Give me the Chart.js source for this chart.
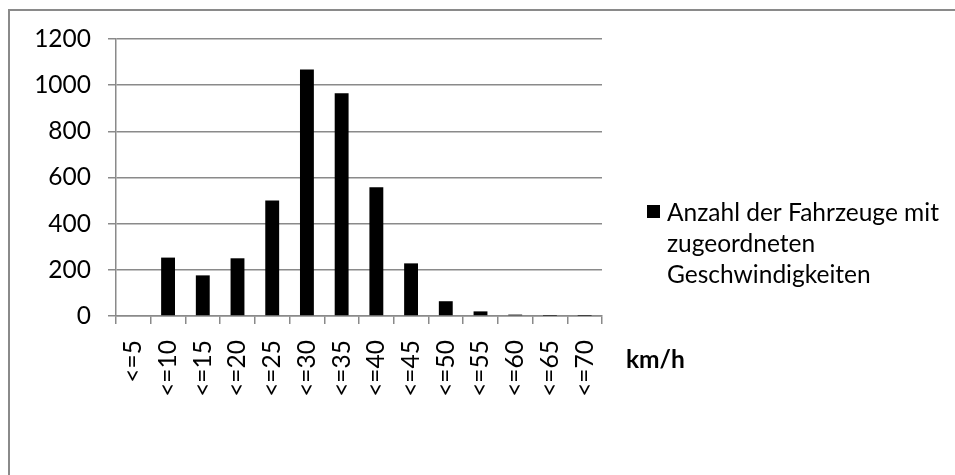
<!DOCTYPE html>
<html>
<head>
<meta charset="utf-8">
<script src="https://cdn.jsdelivr.net/npm/chart.js@4"></script>
<style>
  html, body { margin: 0; padding: 0; background: #fff; }
  #wrap { position: relative; width: 955px; height: 475px; overflow: hidden; }
  #frame { position: absolute; left: 8px; top: 9px; width: 1000px; height: 1000px;
           border-top: 2px solid #8a8a8a; border-left: 2px solid #8a8a8a; }
  canvas { position: absolute; left: 0; top: 0; }
</style>
</head>
<body>
<div id="wrap">
  <div id="frame"></div>
  <canvas id="c" width="955" height="475"></canvas>
</div>
<script>
const speedLabels = ["<=5", "<=10", "<=15", "<=20", "<=25", "<=30", "<=35",
                     "<=40", "<=45", "<=50", "<=55", "<=60", "<=65", "<=70"];
const vehicleCounts = [0, 253, 176, 250, 500, 1068, 965, 558, 228, 64, 20, 6, 1, 1];
const seriesName = "Anzahl der Fahrzeuge mit zugeordneten Geschwindigkeiten";
const legendLines = ["Anzahl der Fahrzeuge mit", "zugeordneten", "Geschwindigkeiten"];
const axisTitle = "km/h";

const font = "Lato, 'Open Sans', sans-serif";
const fontSize = 24.5;
const gridGray = "#8a8a8a";

// legend + unit title drawn by hand, Excel wraps the legend text
const extras = {
  id: 'extras',
  afterDraw(chart) {
    const ctx = chart.ctx;
    const area = chart.chartArea;
    ctx.save();
    ctx.fillStyle = "#000";
    ctx.fillRect(area.right + 45, 205, 13, 13);
    ctx.font = fontSize + "px " + font;
    ctx.textBaseline = "alphabetic";
    ctx.textAlign = "left";
    legendLines.forEach((t, i) => ctx.fillText(t, area.right + 65, 221 + i * 31));
    ctx.font = "bold " + fontSize + "px " + font;
    ctx.textBaseline = "middle";
    ctx.fillText(axisTitle, area.right + 24, 360);
    ctx.restore();
  }
};

new Chart(document.getElementById('c'), {
  type: 'bar',
  data: {
    labels: speedLabels,
    datasets: [{
      label: seriesName,
      data: vehicleCounts,
      backgroundColor: "#000",
      borderWidth: 0,
      barPercentage: 0.4,
      categoryPercentage: 1,
    }],
  },
  options: {
    responsive: false,
    animation: false,
    layout: { padding: { left: 0, top: 39, right: 353, bottom: 59 } },
    plugins: { legend: { display: false }, tooltip: { enabled: false } },
    scales: {
      x: {
        afterFit: s => { s.height = 100; },
        grid: { offset: true, drawOnChartArea: false, drawTicks: true, tickLength: 8,
                color: gridGray, lineWidth: 1.5 },
        border: { color: gridGray, width: 1.5 },
        ticks: { color: "#000", font: { family: font, size: fontSize }, padding: 16,
                 minRotation: 90, maxRotation: 90, autoSkip: false },
      },
      y: {
        min: 0, max: 1200,
        afterFit: s => { s.width = 116; },
        grid: { color: gridGray, lineWidth: 1.5, tickLength: 8 },
        border: { color: gridGray, width: 1.5 },
        ticks: { stepSize: 200, color: "#000", font: { family: font, size: fontSize }, padding: 17,
                 callback: v => String(v) },
      },
    },
  },
  plugins: [extras],
});
</script>
</body>
</html>
